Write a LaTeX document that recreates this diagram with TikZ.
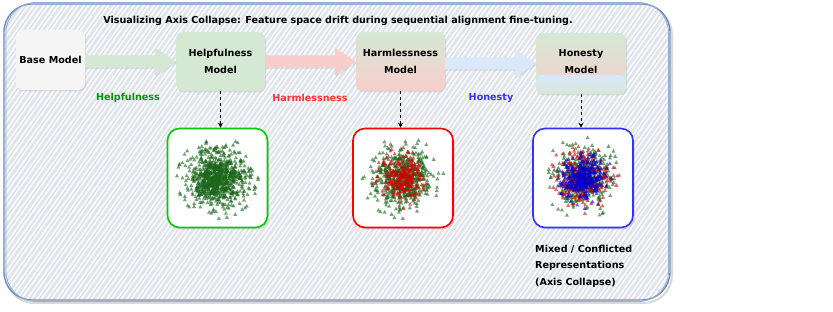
\documentclass[tikz,border=0pt]{standalone}
\usepackage{fontspec}
\setmainfont{DejaVu Sans}
\usetikzlibrary{shadows,calc,arrows.meta}
\definecolor{bdr}{HTML}{6C8EBF}
\definecolor{bgfill}{HTML}{FAFAFB}
\definecolor{hatchA}{HTML}{D0E0F8}
\definecolor{hatchB}{HTML}{E4E4E6}
\definecolor{basefill}{HTML}{F5F5F5}
\definecolor{gfill}{HTML}{D5E8D4}
\definecolor{rfill}{HTML}{F8CECC}
\definecolor{bfill}{HTML}{DAE8FC}
\definecolor{gtxt}{HTML}{009900}
\definecolor{rtxt}{HTML}{FF3333}
\definecolor{btxt}{HTML}{3333FF}
\definecolor{gline}{HTML}{00CC00}
\definecolor{rline}{HTML}{FF0000}
\definecolor{bline}{HTML}{3333FF}
\definecolor{gpt}{HTML}{1A661A}
\definecolor{rpt}{HTML}{D40000}
\definecolor{bpt}{HTML}{0000CC}
\tikzset{
  mbox/.style={draw=none, rounded corners=7pt, align=center, inner sep=2pt,
    drop shadow={opacity=0.2, shadow xshift=1pt, shadow yshift=-1.5pt}},
  scatbox/.style={draw, line width=1.6pt, fill=white, rounded corners=12pt,
    minimum width=100pt, minimum height=99pt,
    drop shadow={opacity=0.25, shadow xshift=1.5pt, shadow yshift=-2pt}},
  dasharr/.style={dashed, line width=0.7pt, -{Stealth[length=5pt,width=5pt]}},
  lbl/.style={inner sep=1pt},
}
\newcommand\blockarrow[3]{%
  \fill[#1, drop shadow={opacity=0.15, shadow xshift=1pt, shadow yshift=-1.5pt}]
    let \p1=(#2.east), \p2=(#3.west) in
    (\x1,\y2-6pt) -- (\x2-21pt,\y2-6pt) -- (\x2-21pt,\y2-14pt) -- (\x2,\y2)
    -- (\x2-21pt,\y2+14pt) -- (\x2-21pt,\y2+6pt) -- (\x1,\y2+6pt) -- cycle;}
\newcommand\scatpts[4]{%
  \foreach \k in {1,...,#3}{%
    \pgfmathsetmacro\rr{#4*min(sqrt(-2*ln(max(rnd,0.0001))),2.9)}%
    \pgfmathsetmacro\aa{360*rnd}%
    \fill[#2, fill opacity=0.6] ($(#1)+(\aa:\rr)$) +(0,-2.3) -- +(-2,1.4) -- +(2,1.4) -- cycle;
  }}
\begin{document}
\begin{tikzpicture}[x=1pt,y=-1pt, font=\bfseries\fontsize{9.6}{16.5}\selectfont]
\useasboundingbox (0,0) rectangle (833,312);
\pgfmathsetseed{42}
% container
\draw[black!15, line width=2pt, rounded corners=28pt] (6,7) rectangle (672,303);
\begin{scope}
  \clip[rounded corners=28pt] (4,4) rectangle (670,300);
  \fill[bgfill] (0,0) rectangle (680,310);
  \foreach \i in {-250,-240,...,700} {\draw[hatchB, line width=2.6pt] (\i,305) -- ++(215,-305);}
  \foreach \i in {-245,-235,...,700} {\draw[hatchA, line width=1.3pt] (\i,305) -- ++(215,-305);}
\end{scope}
\draw[bdr, line width=1.4pt, rounded corners=28pt] (4,4) rectangle (670,300);
\draw[bdr!70, line width=0.9pt, rounded corners=30pt] (6,2.5) rectangle (668.5,301.5);
% title
\node (title) at (338,21) {Visualizing Axis Collapse: Feature space drift during sequential alignment fine-tuning.};
% model boxes
\node[mbox, fill=basefill, minimum width=69pt, minimum height=60pt] (base) at (50.5,60) {Base Model};
\node[mbox, fill=gfill, minimum width=89pt, minimum height=59pt] (help) at (220.5,61.5) {Helpfulness\\Model};
\node[mbox, top color=gfill, bottom color=rfill, minimum width=89pt, minimum height=59pt] (harm) at (400.5,61.5) {Harmlessness\\Model};
\node[mbox, fill=gfill, minimum width=90pt, minimum height=61pt,
  path picture={
    \shade[top color=gfill, bottom color=rfill] (path picture bounding box.north west) rectangle ($(path picture bounding box.south east)+(0,-19)$);
    \shade[top color=bfill, bottom color=gfill] ($(path picture bounding box.south west)+(0,-19)$) rectangle (path picture bounding box.south east);
  }] (hon) at (581,63.5) {};
\node[align=center] (hontxt) at (581,61.5) {Honesty\\Model};
% block arrows
\blockarrow{gfill}{base}{help}
\blockarrow{rfill}{help}{harm}
\blockarrow{bfill}{harm}{hon}
% labels
\node[lbl, text=gtxt] (lh) at (128,98) {Helpfulness};
\node[lbl, text=rtxt] (lr) at (310,98) {Harmlessness};
\node[lbl, text=btxt] (lb) at (491,98) {Honesty};
% scatter boxes
\node[scatbox, draw=gline] (s1) at (217.5,178) {};
\node[scatbox, draw=rline] (s2) at (403,178) {};
\node[scatbox, draw=bline] (s3) at (583,178) {};
\draw[dasharr] (help.south) -- (help.south |- s1.north);
\draw[dasharr] (harm.south) -- (harm.south |- s2.north);
\draw[dasharr] (hon.south) -- (hon.south |- s3.north);
% scatters
\scatpts{s1}{gpt}{850}{14}
\scatpts{s2}{gpt}{560}{14}
\scatpts{s2}{rpt}{220}{10.5}
\scatpts{s3}{gpt}{360}{14}
\scatpts{s3}{rpt}{280}{12.5}
\scatpts{s3}{bpt}{340}{10.5}
% caption
\node[align=left, anchor=north west, inner sep=0pt] (cap) at (535,245) {Mixed / Conflicted\\Representations\\(Axis Collapse)};
\end{tikzpicture}
\end{document}
